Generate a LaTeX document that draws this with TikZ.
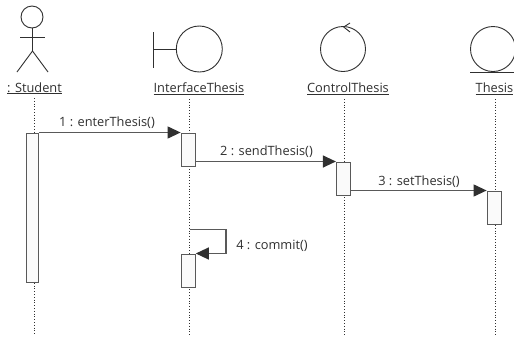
\documentclass[tikz,border=0pt]{standalone}
\usepackage{fontspec}
\setmainfont{Open Sans}
\usetikzlibrary{arrows.meta}
\definecolor{ink}{HTML}{303030}
\tikzset{
  x=1pt,y=-1pt,
  figure/.style={draw=ink,line width=0.9pt},
  lifeline/.style={draw=ink,line width=0.8pt,dotted},
  actbox/.style={draw=ink!80,line width=1.2pt,fill=black!2,inner sep=0pt,minimum width=14pt,anchor=north},
  msgline/.style={draw=ink!80,line width=1.2pt,-{Triangle[length=13pt,width=12pt,color=ink,fill=ink]}},
  lbl/.style={inner sep=0pt,font=\fontsize{12.8}{14}\selectfont,text=ink,anchor=base},
}
\newcommand{\ulbl}[1]{\underline{#1}}
\begin{document}
\begin{tikzpicture}
\useasboundingbox (0,0) rectangle (514,338);
\fill[white] (0,0) rectangle (514,338);
% object labels
\node[lbl] (lstudent) at (34.5,92) {\ulbl{: Student}};
\node[lbl] (linterface) at (199,92.5) {\ulbl{InterfaceThesis}};
\node[lbl] (lcontrol) at (348,92.5) {\ulbl{ControlThesis}};
\node[lbl] (lthesis) at (494.5,92.5) {\ulbl{Thesis}};
% lifeline end points
\coordinate (s0) at (34,98); \coordinate (s1) at (34,335);
\coordinate (i0) at (189.5,99); \coordinate (i1) at (189.5,335);
\coordinate (c0) at (344.5,99); \coordinate (c1) at (344.5,335);
\coordinate (t0) at (495,99); \coordinate (t1) at (495,335);
\draw[lifeline] (s0) -- (s1);
\draw[lifeline] (i0) -- (i1);
\draw[lifeline] (c0) -- (c1);
\draw[lifeline] (t0) -- (t1);
% actor
\draw[figure] (32,17) circle (11);
\draw[figure] (20,37) -- (45,37);
\draw[figure] (32.5,28) -- (32.5,51) -- (17,72);
\draw[figure] (32.5,51) -- (48,72);
% boundary
\draw[figure] (199.3,49) circle (23);
\draw[figure] (153,32) -- (153,68);
\draw[figure] (153,49) -- (176.3,49);
% control
\draw[figure] (343,49) circle (22.5);
\draw[figure] (350,23) -- (343.7,27) -- (350,32);
% entity
\begin{scope}
\clip (0,0) rectangle (514,338);
\draw[figure] (493,49) circle (22.5);
\draw[figure] (470,72) -- (514,72);
\end{scope}
% activations
\node[actbox,minimum width=12.5pt,minimum height=149pt] (a1) at (32.5,132.5) {};
\node[actbox,minimum height=33pt] (a2) at (188.2,132.5) {};
\node[actbox,minimum height=33pt] (a3) at (343.5,161.5) {};
\node[actbox,minimum height=33pt] (a4) at (494.2,190.5) {};
\node[actbox,minimum height=33.5pt] (a5) at (188.2,253.5) {};
% messages
\draw[msgline] (a1.north east) -- (a2.north west);
\draw[msgline] (a2.east |- 0,161.5) -- (a3.north west);
\draw[msgline] (a3.east |- 0,190.5) -- (a4.north west);
\coordinate (selfstart) at (189.5,229.5);
\coordinate (selfa) at (226,229.5);
\coordinate (selfb) at (226,253.5);
\draw[msgline] (selfstart) -- (selfa) -- (selfb) -- (a5.north east);
% message labels
\node[lbl] (m1) at (107,126.5) {1 : enterThesis()};
\node[lbl] (m2) at (266.5,155.5) {2 : sendThesis()};
\node[lbl] (m3) at (419,185) {3 : setThesis()};
\node[lbl] (m4) at (272,249) {4 : commit()};
\end{tikzpicture}
\end{document}
